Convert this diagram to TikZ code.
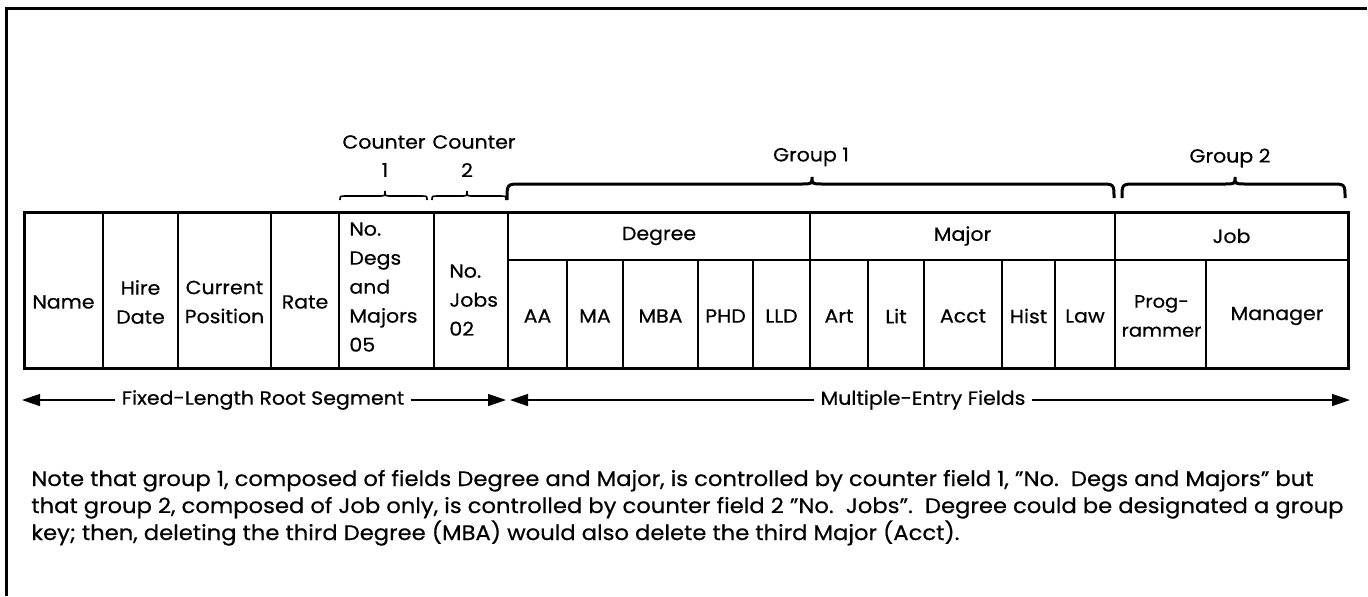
\documentclass[tikz,border=0pt]{standalone}
\usepackage{fontspec}
\setmainfont{Poppins}[FakeStretch=1.08,FakeBold=0.5]
\usetikzlibrary{arrows.meta}
\begin{document}
\begin{tikzpicture}[x=0.5pt,y=-0.5pt,
  every node/.style={inner sep=0pt},
  txt/.style={font=\fontsize{9.5}{14.5}\selectfont, align=center},
  ltxt/.style={font=\fontsize{9.5}{14.5}\selectfont, align=left, anchor=west},
  notetxt/.style={font=\fontsize{10.5}{13.5}\selectfont, anchor=base west},
  frameline/.style={line width=1.5pt},
  outer/.style={line width=1.5pt},
  inner/.style={line width=1pt},
  cbrace/.style={line width=0.8pt},
  gbrace/.style={line width=1.5pt},
  dimarrow/.style={line width=0.7pt, -{Triangle[length=9pt,width=6pt]}}
]
\useasboundingbox (0,0) rectangle (1368,596);
% frame
\draw[frameline] (6,596) -- (6,8) -- (1367,8);
% table grid
\foreach \x in {103,178,271,339,434,508,810,1115}
  \draw[inner] (\x,212) -- (\x,368);
\draw[inner] (508,260) -- (1348,260);
\foreach \x in {567,623,698,753,868,924,1002,1055,1206}
  \draw[inner] (\x,260) -- (\x,368);
\draw[outer] (24,212) rectangle (1348,368);
% cell texts
\node[txt] (name) at (63.5,302) {Name};
\node[txt] (hire) at (140.5,302) {Hire\\Date};
\node[txt] (curpos) at (224.5,302) {Current\\Position};
\node[txt] (rate) at (305,302) {Rate};
\node[ltxt] (nodegs) at (349,287) {No.\\Degs\\and\\Majors\\05};
\node[ltxt] (nojobs) at (449,300) {No.\\Jobs\\02};
\node[txt] (degree) at (659,236) {Degree};
\node[txt] (major) at (962.5,236) {Major};
\node[txt] (job) at (1231.5,236) {Job};
\node[txt] (aa) at (537.5,316) {AA};
\node[txt] (ma) at (595,316) {MA};
\node[txt] (mba) at (660.5,316) {MBA};
\node[txt] (phd) at (725.5,316) {PHD};
\node[txt] (lld) at (781.5,316) {LLD};
\node[txt] (art) at (839,316) {Art};
\node[txt] (lit) at (896,316) {Lit};
\node[txt] (acct) at (963,316) {Acct};
\node[txt] (hist) at (1028.5,316) {Hist};
\node[txt] (law) at (1085,316) {Law};
\node[txt, font=\fontsize{9}{14.5}\selectfont] (prog) at (1161.5,316) {Prog-\\rammer};
\node[txt] (manager) at (1277,316) {Manager};
% braces
\draw[cbrace] (340,200) .. controls (340,196) .. (346,196) -- (379,196)
  .. controls (385,196) .. (385,191) .. controls (385,196) .. (391,196)
  -- (421,196) .. controls (427,196) .. (427,200);
\draw[cbrace] (432,200) .. controls (432,196) .. (438,196) -- (461,196)
  .. controls (467,196) .. (467,191) .. controls (467,196) .. (473,196)
  -- (500,196) .. controls (506,196) .. (506,200);
\draw[gbrace] (507,200) .. controls (507,184) .. (521,184) -- (800,184)
  .. controls (812,184) .. (812,177) .. controls (812,184) .. (824,184)
  -- (1100,184) .. controls (1114,184) .. (1114,198);
\draw[gbrace] (1122,198) .. controls (1122,184) .. (1136,184) -- (1223,184)
  .. controls (1235,184) .. (1235,177) .. controls (1235,184) .. (1247,184)
  -- (1331,184) .. controls (1345,184) .. (1345,198);
% brace labels
\node[txt] (c1) at (384,142) {Counter};
\node[txt] (c2) at (474,142) {Counter};
\node[txt] (c1n) at (385,170) {1};
\node[txt] (c2n) at (467,170) {2};
\node[txt] (g1) at (811,157) {Group 1};
\node[txt] (g2) at (1230,158) {Group 2};
% dimension arrows
\coordinate (fl) at (22,400);
\coordinate (fr) at (506,400);
\coordinate (ml) at (510,400);
\coordinate (mr) at (1350,400);
\node[txt, fill=white, inner xsep=3pt] (fixed) at (263,400) {Fixed-Length Root Segment};
\node[txt, fill=white, inner xsep=3pt] (multi) at (923,400) {Multiple-Entry Fields};
\draw[dimarrow] (fixed.west) -- (fl);
\draw[dimarrow] (fixed.east) -- (fr);
\draw[dimarrow] (multi.west) -- (ml);
\draw[dimarrow] (multi.east) -- (mr);
% note
\node[notetxt] (note1) at (31,486) {Note that group 1, composed of fields Degree and Major, is controlled by counter field 1, "No.\ \ Degs and Majors" but};
\node[notetxt] (note2) at (31,513) {that group 2, composed of Job only, is controlled by counter field 2 "No.\ \ Jobs".\ \ Degree could be designated a group};
\node[notetxt] (note3) at (31,540) {key; then, deleting the third Degree (MBA) would also delete the third Major (Acct).};
\end{tikzpicture}
\end{document}
